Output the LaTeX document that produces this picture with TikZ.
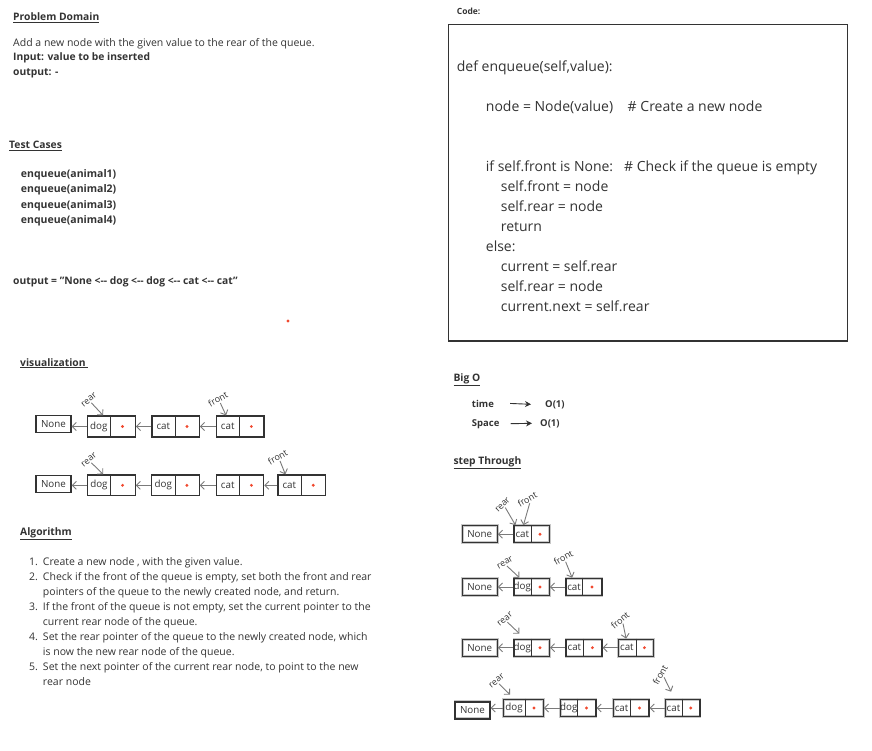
\documentclass[tikz,border=0pt]{standalone}
\usepackage{fontspec}
\setmainfont{Open Sans}
\usepackage{tikz}
\usetikzlibrary{arrows.meta,positioning,calc}
\definecolor{inkc}{HTML}{333333}
\definecolor{linec}{HTML}{7A7A7A}
\definecolor{dotc}{HTML}{F0492F}
% one queue cell: [style] name, centre, width, height, divider offset, value
\newcommand{\qcell}[7][cellbox]{%
  \node[#1, minimum width=#4pt, minimum height=#5pt] (#2) at #3 {};
  \draw[celldiv] ($(#2.north west)+(#6,0)$) -- ($(#2.south west)+(#6,0)$);
  \node[celltxt] (#2-t) at ($(#2.west)+({#6/2},0)$) {#7};
  \fill[dotc] ($(#2.west)+({(#6+#4)/2},0)$) circle (1.6);
}

\begin{document}
\begin{tikzpicture}[x=1pt, y=-1pt,
      head/.style={anchor=base west, inner sep=0pt, text=inkc,
                   font=\bfseries\fontsize{10.3}{12}\selectfont},
      body/.style={anchor=base west, inner sep=0pt, text=inkc,
                   font=\fontsize{10.5}{12}\selectfont},
      bodyB/.style={body, font=\bfseries\fontsize{10.3}{12}\selectfont},
      bigtxt/.style={body, font=\bfseries\fontsize{9.5}{11}\selectfont},
      cellbox/.style={draw=inkc, line width=1.2pt, inner sep=0pt},
      stepbox/.style={cellbox, preaction={draw=black!22, line width=2.6pt}},
      celldiv/.style={draw=inkc, line width=1.2pt},
      celltxt/.style={inner sep=0pt, text=inkc, font=\fontsize{9.8}{11}\selectfont},
      nonebox/.style={cellbox, line width=1.4pt, minimum width=35pt, minimum height=17pt,
                      text=inkc, font=\fontsize{9.8}{11}\selectfont},
      stepnone/.style={nonebox, preaction={draw=black!22, line width=2.8pt}},
      link/.style={draw=linec, line width=0.9pt, -{Straight Barb[length=4pt,width=8pt]}},
      ptrlbl/.style={inner sep=1pt, text=inkc, font=\fontsize{9}{10}\selectfont},
      bigarr/.style={draw=inkc, line width=0.9pt, -{Stealth[length=6pt,width=6pt]}},
    ]
    \useasboundingbox (0,0) rectangle (872,751);

    % problem domain
    \node[head] (pdH) at (13,20.7) {\underline{Problem Domain}};
    \node[body] (pd1) at (13,46.7) {Add a new node with the given value to the rear of the queue.};
    \node[bodyB] (pd2) at (13,61) {Input: value to be inserted};
    \node[bodyB] (pd3) at (13,75.5) {output: -};

    % test cases
    \node[head] (tcH) at (9,149) {\underline{Test Cases}};
    \node[anchor=north west, inner sep=0pt, text=inkc, font=\bfseries\fontsize{10.5}{15.3}\selectfont]
      (tcL) at (20.7,166.6) {\begin{tabular}{@{}l@{}}
        enqueue(animal1)\\ enqueue(animal2)\\ enqueue(animal3)\\ enqueue(animal4)
      \end{tabular}};
    \node[bodyB, font=\bfseries\fontsize{10.3}{12}\selectfont] (tcOut) at (13,284)
      {output = \symbol{34}None <{-}{-} dog <{-}{-} dog <{-}{-} cat <{-}{-} cat\symbol{34}};
    \fill[dotc] (288,321) circle (1.6);

    % visualization
    \node[head] (visH) at (20,366) {\underline{visualization\ }};

    \node[nonebox] (vAnone) at (53.5,424) {None};
    \qcell{vA1}{(111.5,426.5)}{47.6}{21}{23.3}{dog}
    \qcell{vA2}{(175.7,426.5)}{47.3}{21}{23.7}{cat}
    \qcell{vA3}{(240.3,426.5)}{47.3}{21}{23.3}{cat}
    \draw[link] (vA1.west) -- (vA1.west -| vAnone.east);
    \draw[link] (vA2.west) -- (vA1.east);
    \draw[link] (vA3.west) -- (vA2.east);
    \node[ptrlbl, rotate=40] (vArear) at (89,400) {rear};
    \node[ptrlbl, rotate=30] (vAfront) at (218,399) {front};
    \draw[link] (vArear.south) -- ($(vA1.north west)+(16,0)$);
    \draw[link] (vAfront.south) -- ($(vA3.north west)+(10,0)$);

    \node[nonebox] (vBnone) at (53.5,484.2) {None};
    \qcell{vB1}{(111.5,485.3)}{47.3}{20.7}{23.3}{dog}
    \qcell{vB2}{(175.5,485.3)}{47.3}{20.7}{24}{dog}
    \qcell{vB3}{(240,485.3)}{47.3}{20.7}{24}{cat}
    \qcell{vB4}{(301.8,485.3)}{47.7}{20.7}{24}{cat}
    \draw[link] (vB1.west) -- (vB1.west -| vBnone.east);
    \draw[link] (vB2.west) -- (vB1.east);
    \draw[link] (vB3.west) -- (vB2.east);
    \draw[link] (vB4.west) -- (vB3.east);
    \node[ptrlbl, rotate=40] (vBrear) at (89,460) {rear};
    \node[ptrlbl, rotate=30] (vBfront) at (277.7,457) {front};
    \draw[link] (vBrear.south) -- ($(vB1.north west)+(16,0)$);
    \draw[link] (vBfront.south) -- ($(vB4.north west)+(8,0)$);

    % algorithm
    \node[head] (alH) at (20,535) {\underline{Algorithm}};
    \node[anchor=north west, inner sep=0pt, text=inkc, font=\fontsize{10.5}{15}\selectfont]
      (alL) at (29,554.5) {\begin{tabular}{@{}r@{\hspace{5pt}}l@{}}
        1. & Create a new node , with the given value.\\
        2. & Check if the front of the queue is empty, set both the front and rear\\
           & pointers of the queue to the newly created node, and return.\\
        3. & If the front of the queue is not empty, set the current pointer to the\\
           & current rear node of the queue.\\
        4. & Set the rear pointer of the queue to the newly created node, which\\
           & is now the new rear node of the queue.\\
        5. & Set the next pointer of the current rear node, to point to the new\\
           & rear node
      \end{tabular}};

    % code
    \node[head, font=\bfseries\fontsize{8.5}{10}\selectfont] (cdH) at (456.7,15) {Code:};
    \node[draw=inkc, line width=1.3pt, minimum width=399pt, minimum height=316.7pt]
      (cdBox) at (647.8,182.7) {};
    \node[anchor=north west, inner sep=0pt, text=inkc, font=\fontsize{14}{20}\selectfont]
      (cdT) at (456.7,57) {\begin{tabular}{@{}l@{}}
        def enqueue(self,value):\\
        \\
        \hspace*{29pt}node = Node(value)\ \ \ \ \# Create a new node\\
        \\
        \\
        \hspace*{29pt}if self.front is None:\ \ \ \# Check if the queue is empty\\
        \hspace*{44pt}self.front = node\\
        \hspace*{44pt}self.rear = node\\
        \hspace*{44pt}return\\
        \hspace*{29pt}else:\\
        \hspace*{44pt}current = self.rear\\
        \hspace*{44pt}self.rear = node\\
        \hspace*{44pt}current.next = self.rear
      \end{tabular}};

    % big O
    \node[head] (boH) at (453.3,381.7) {\underline{Big O}};
    \node[bigtxt] (boTime) at (471.7,407) {time};
    \node[bigtxt] (boTimeO) at (545,407) {O(1)};
    \node[bigtxt] (boSpace) at (471.7,426) {Space};
    \node[bigtxt] (boSpaceO) at (540,426) {O(1)};
    \draw[bigarr] ([xshift=16pt]boTime.east) -- ([xshift=-14pt]boTimeO.west);
    \draw[bigarr] ([xshift=11pt]boSpace.east) -- ([xshift=-8pt]boSpaceO.west);

    % step through
    \node[head] (stH) at (453.3,464) {\underline{step Through}};

    \node[stepnone] (s1none) at (479.7,534.2) {None};
    \qcell[stepbox]{s1a}{(531.7,534.2)}{35.3}{17}{17.7}{cat}
    \draw[link] (s1a.west) -- (s1none.east);
    \node[ptrlbl, rotate=45] (s1rear) at (502.7,505) {rear};
    \node[ptrlbl, rotate=30] (s1front) at (527.3,499.3) {front};
    \draw[link] (s1rear.south) -- ($(s1a.north west)+(2,0)$);
    \draw[link] (s1front.south) -- ($(s1a.north west)+(10,0)$);

    \node[stepnone] (s2none) at (479.7,587) {None};
    \qcell[stepbox]{s2a}{(531.7,587)}{35.3}{17.4}{17.7}{dog}
    \qcell[stepbox]{s2b}{(584,587)}{36}{17.4}{17.3}{cat}
    \draw[link] (s2a.west) -- (s2none.east);
    \draw[link] (s2b.west) -- (s2a.east);
    \node[ptrlbl, rotate=30] (s2rear) at (505,562.7) {rear};
    \node[ptrlbl, rotate=30] (s2front) at (563.3,557.7) {front};
    \draw[link] (s2rear.south) -- ($(s2a.north west)+(6,0)$);
    \draw[link] (s2front.south) -- ($(s2b.north west)+(6.7,0)$);

    \node[stepnone] (s3none) at (479.7,647.7) {None};
    \qcell[stepbox]{s3a}{(531.7,647.7)}{35.3}{17}{17.7}{dog}
    \qcell[stepbox]{s3b}{(584,647.7)}{36}{17}{18}{cat}
    \qcell[stepbox]{s3c}{(635.8,647.7)}{35}{17}{18.4}{cat}
    \draw[link] (s3a.west) -- (s3none.east);
    \draw[link] (s3b.west) -- (s3a.east);
    \draw[link] (s3c.west) -- (s3b.east);
    \node[ptrlbl, rotate=40] (s3rear) at (505,619.3) {rear};
    \node[ptrlbl, rotate=40] (s3front) at (620,620) {front};
    \draw[link] (s3rear.south) -- ($(s3a.north west)+(6,-5)$);
    \draw[link] (s3front.south) -- ($(s3c.north west)+(8.4,0)$);

    \node[stepnone] (s4none) at (472.5,710.3) {None};
    \qcell[stepbox]{s4a}{(523.3,708)}{40}{17.4}{22.7}{dog}
    \qcell[stepbox]{s4b}{(578.3,708)}{35.3}{17.4}{17.6}{dog}
    \qcell[stepbox]{s4c}{(631.2,708)}{35.7}{17.4}{17.7}{cat}
    \qcell[stepbox]{s4d}{(682.7,708)}{34.7}{17.4}{17.4}{cat}
    \draw[link] (s4a.west) -- (s4a.west -| s4none.east);
    \draw[link] (s4b.west) -- (s4a.east);
    \draw[link] (s4c.west) -- (s4b.east);
    \draw[link] (s4d.west) -- (s4c.east);
    \node[ptrlbl, rotate=40] (s4rear) at (496.7,681) {rear};
    \node[ptrlbl, rotate=60] (s4front) at (660,675) {front};
    \draw[link] (s4rear.south) -- ($(s4a.north west)+(7.4,-4)$);
    \draw[link] (s4front.south) -- ($(s4d.north west)+(6.4,-7)$);
  \end{tikzpicture}
\end{document}
